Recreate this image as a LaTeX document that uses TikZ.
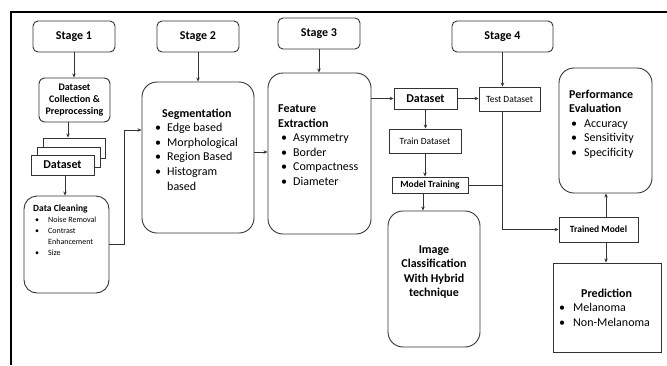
\documentclass[tikz,border=0pt]{standalone}
\usepackage{fontspec}
\setmainfont{Carlito}
\usetikzlibrary{arrows.meta}
\definecolor{linec}{HTML}{333333}
\newcommand\myftw{\fontsize{12}{14.6}\selectfont}
\newcommand\myften{\fontsize{10}{11.7}\selectfont}
\newcommand\myfnine{\fontsize{9.5}{11}\selectfont}
\newcommand\myfeight{\fontsize{8}{10}\selectfont}
\newcommand\bul[1]{\makebox[#1][l]{\textbullet}}
\begin{document}
\begin{tikzpicture}[x=1pt,y=-1pt,
  bx/.style={draw=linec, line width=0.9pt, inner sep=0pt, fill=white, align=center},
  rbx/.style={bx, rounded corners=#1},
  arr/.style={draw=linec, line width=0.8pt, -{Stealth[length=4pt,width=3.5pt]}},
  ln/.style={draw=linec, line width=0.8pt},
  txt/.style={inner sep=0pt, align=left, anchor=north west},
  stg/.style={rbx=5pt, minimum width=82pt, minimum height=31pt, font=\bfseries\myftw}]
\useasboundingbox (0,0) rectangle (667,365);
\draw[line width=1.8pt] (11,365) -- (11,12) -- (667,12);

% stage boxes
\node[stg] (s1) at (74,36.5) {Stage 1};
\node[stg] (s2) at (198,36.5) {Stage 2};
\node[stg] (s3) at (319,33.5) {Stage 3};
\node[stg, minimum width=101pt] (s4) at (502.5,36.5) {Stage 4};

% stage 1 column
\node[rbx=6pt, minimum width=71pt, minimum height=44pt, font=\bfseries\myften] (dcp) at (74.5,100) {Dataset\\Collection \&\\Preprocessing};
\node[bx, minimum width=62pt, minimum height=20pt] (st3) at (74,148) {};
\node[bx, minimum width=63pt, minimum height=20pt] (st2) at (68.5,157) {};
\node[bx, minimum width=63pt, minimum height=20pt, font=\bfseries\myftw] (ds1) at (62.5,165) {Dataset};
\node[rbx=13pt, minimum width=85pt, minimum height=97pt] (clean) at (66.5,244.5) {};
\node[txt] (cleant) at (33,205) {{\bfseries\myfnine Data Cleaning}\\[-1pt]
  {\myfeight\hspace*{2pt}\bul{13pt}Noise Removal}\\[-1pt]
  {\myfeight\hspace*{2pt}\bul{13pt}Contrast}\\[-1pt]
  {\myfeight\hspace*{15pt}Enhancement}\\[-1pt]
  {\myfeight\hspace*{2pt}\bul{13pt}Size}};

% segmentation
\node[rbx=15pt, minimum width=112pt, minimum height=151pt] (seg) at (198,157.5) {};
\node[txt, font=\myftw] (segt) at (155,108.5) {\hspace*{7pt}\textbf{Segmentation}\\
  \bul{12pt}Edge based\\
  \bul{12pt}Morphological\\
  \bul{12pt}Region Based\\
  \bul{12pt}Histogram\\
  \hspace*{12pt}based};

% feature extraction
\node[rbx=15pt, minimum width=103pt, minimum height=161pt] (feat) at (319.5,153.5) {};
\node[txt, font=\myftw] (featt) at (278,104.5) {\textbf{Feature}\\
  \textbf{Extraction}\\
  \hspace*{3pt}\bul{12pt}Asymmetry\\
  \hspace*{3pt}\bul{12pt}Border\\
  \hspace*{3pt}\bul{12pt}Compactness\\
  \hspace*{3pt}\bul{12pt}Diameter};

% stage 4 column
\node[bx, minimum width=63pt, minimum height=21pt, font=\bfseries\myftw] (ds2) at (425.5,98.5) {Dataset};
\node[bx, minimum width=61pt, minimum height=24pt, font=\myfnine] (test) at (509.5,99) {Test Dataset};
\node[bx, minimum width=72pt, minimum height=24pt, font=\myfnine] (train) at (425,141) {Train Dataset};
\node[bx, minimum width=76pt, minimum height=16pt, font=\bfseries\myfnine] (mt) at (430,185) {Model Training};
\node[rbx=15pt, minimum width=92pt, minimum height=136pt] (img) at (434,279) {};
\node[inner sep=0pt, align=center, font=\bfseries\myftw] (imgt) at (434,272) {Image\\Classification\\With Hybrid\\technique};

\node[rbx=15pt, minimum width=93pt, minimum height=125pt] (perf) at (605.5,130.5) {};
\node[txt, font=\myftw] (perft) at (569,89.5) {\textbf{Performance}\\
  \textbf{Evaluation}\\
  \hspace*{2pt}\bul{13pt}Accuracy\\
  \hspace*{2pt}\bul{13pt}Sensitivity\\
  \hspace*{2pt}\bul{13pt}Specificity};
\node[bx, minimum width=79pt, minimum height=25pt, font=\bfseries\myfnine] (tm) at (598.5,229.5) {Trained Model};
\node[bx, minimum width=108pt, minimum height=89pt] (pred) at (607,307.5) {};
\node[txt, font=\myftw] (predt) at (559,288.5) {\hspace*{22pt}\textbf{Prediction}\\
  \bul{14pt}Melanoma\\
  \bul{14pt}Non-Melanoma};

% connectors
\draw[arr] (s1.south) -- (s1.south |- dcp.north);
\draw[arr] ([xshift=-6.5pt]dcp.south) -- ([xshift=-6.5pt]dcp.south |- st3.north);
\draw[arr] ([xshift=2.5pt]ds1.south) -- ([xshift=2.5pt]ds1.south |- clean.north);
\coordinate (c1) at (124,130);
\draw[arr] (clean.east) -| (c1) -- (c1 -| seg.west);
\draw[arr] (s2.south) -- (s2.south |- seg.north);
\draw[arr] (seg.east |- 0,152) -- (feat.west |- 0,152);
\draw[arr] (s3.south) -- (s3.south |- feat.north);
\draw[arr] (feat.east |- ds2.west) -- (ds2.west);
\draw[arr] (ds2.east) -- (ds2.east -| test.west);
\draw[arr] (s4.south) -- (s4.south |- test.north);
\draw[arr] (ds2.south) -- (ds2.south |- train.north);
\draw[arr] (train.south) -- (train.south |- mt.north);
\draw[arr] ([xshift=-7pt]mt.south) -- ([xshift=-7pt]mt.south |- img.north);
\draw[arr] (s4.south |- test.south) -- (s4.south |- tm.west) -- (tm.west);
\draw[ln] (mt.east) -- (mt.east -| s4.south);
\draw[arr] ([xshift=7.5pt]tm.north) -- ([xshift=7.5pt]tm.north |- perf.south);
\draw[arr] ([xshift=7.5pt]tm.south) -- ([xshift=7.5pt]tm.south |- pred.north);
\end{tikzpicture}
\end{document}
